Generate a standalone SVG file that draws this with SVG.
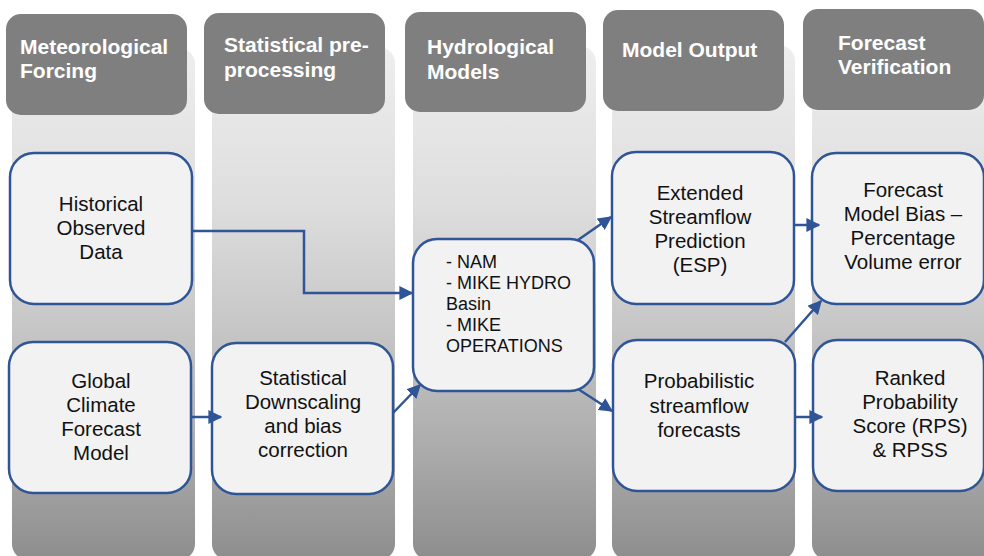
<svg xmlns="http://www.w3.org/2000/svg" width="984" height="556" viewBox="0 0 984 556">
<defs>
<linearGradient id="colg" x1="0" y1="48" x2="0" y2="560" gradientUnits="userSpaceOnUse">
<stop offset="0" stop-color="#eeeeee"/>
<stop offset="0.3" stop-color="#dedede"/>
<stop offset="0.55" stop-color="#c6c6c6"/>
<stop offset="0.78" stop-color="#acacac"/>
<stop offset="1" stop-color="#8d8d8d"/>
</linearGradient>
<marker id="ah" viewBox="0 0 10 10" refX="9" refY="5" markerWidth="5.6" markerHeight="5.6" orient="auto" markerUnits="strokeWidth">
<path d="M0,0 L10,5 L0,10 Z" fill="#2f5597"/>
</marker>
<style>
.col{fill:url(#colg);}
.hdr{fill:#7f7f7f;}
.ht{font-family:"Liberation Sans",Arial,sans-serif;font-weight:bold;font-size:21px;fill:#ffffff;}
.box{fill:#f2f2f2;stroke:#2f5597;stroke-width:2.5;}
.bt{font-family:"Liberation Sans",Arial,sans-serif;font-size:20.5px;fill:#111111;text-anchor:middle;}
.lt{font-family:"Liberation Sans",Arial,sans-serif;font-size:18px;fill:#111111;}
.con{fill:none;stroke:#2f5597;stroke-width:2.5;marker-end:url(#ah);}
</style>
</defs>
<rect width="984" height="556" fill="#ffffff"/>
<g id="columns">
<rect class="col" x="12" y="48" width="183" height="512" rx="16"/>
<rect class="col" x="212" y="47" width="183" height="513" rx="16"/>
<rect class="col" x="413" y="46" width="183" height="514" rx="16"/>
<rect class="col" x="612" y="45" width="183" height="515" rx="16"/>
<rect class="col" x="812" y="44" width="183" height="516" rx="16"/>
</g>
<g id="header-meteorological">
<rect class="hdr" x="6" y="14" width="181" height="101" rx="15"/>
<text class="ht" x="20" y="54">Meteorological</text>
<text class="ht" x="20" y="78">Forcing</text>
</g>
<g id="header-statistical">
<rect class="hdr" x="204" y="13" width="181" height="101" rx="15"/>
<text class="ht" x="224" y="52">Statistical pre-</text>
<text class="ht" x="224" y="77">processing</text>
</g>
<g id="header-hydrological">
<rect class="hdr" x="405" y="12" width="181" height="100" rx="15"/>
<text class="ht" x="427" y="54">Hydrological</text>
<text class="ht" x="427" y="79">Models</text>
</g>
<g id="header-output">
<rect class="hdr" x="603" y="10" width="181" height="101" rx="15"/>
<text class="ht" x="622" y="57">Model Output</text>
</g>
<g id="header-verification">
<rect class="hdr" x="803" y="9" width="181" height="101" rx="15"/>
<text class="ht" x="838" y="50">Forecast</text>
<text class="ht" x="838" y="74">Verification</text>
</g>
<g id="node-historical">
<rect class="box" x="10" y="153" width="182" height="151" rx="24"/>
<text class="bt" x="101" y="211">Historical</text>
<text class="bt" x="101" y="235">Observed</text>
<text class="bt" x="101" y="259">Data</text>
</g>
<g id="node-gcm">
<rect class="box" x="9" y="342" width="182" height="151" rx="24"/>
<text class="bt" x="101" y="388">Global</text>
<text class="bt" x="101" y="412">Climate</text>
<text class="bt" x="101" y="436">Forecast</text>
<text class="bt" x="101" y="460">Model</text>
</g>
<g id="node-downscaling">
<rect class="box" x="212" y="343" width="181" height="151" rx="24"/>
<text class="bt" x="303" y="385">Statistical</text>
<text class="bt" x="303" y="409">Downscaling</text>
<text class="bt" x="303" y="433">and bias</text>
<text class="bt" x="303" y="457">correction</text>
</g>
<g id="node-hydro">
<rect class="box" x="413" y="239" width="181" height="152" rx="24"/>
<text class="lt" x="446" y="268">- NAM</text>
<text class="lt" x="446" y="289">- MIKE HYDRO</text>
<text class="lt" x="446" y="310">Basin</text>
<text class="lt" x="446" y="331">- MIKE</text>
<text class="lt" x="446" y="352">OPERATIONS</text>
</g>
<g id="node-esp">
<rect class="box" x="612" y="152" width="182" height="152" rx="24"/>
<text class="bt" x="700" y="200">Extended</text>
<text class="bt" x="700" y="224">Streamflow</text>
<text class="bt" x="700" y="248">Prediction</text>
<text class="bt" x="700" y="272">(ESP)</text>
</g>
<g id="node-probabilistic">
<rect class="box" x="613" y="340" width="182" height="151" rx="24"/>
<text class="bt" x="699" y="388">Probabilistic</text>
<text class="bt" x="699" y="413">streamflow</text>
<text class="bt" x="699" y="437">forecasts</text>
</g>
<g id="node-bias">
<rect class="box" x="812" y="153" width="172" height="151" rx="24"/>
<text class="bt" x="903" y="197">Forecast</text>
<text class="bt" x="903" y="221">Model Bias –</text>
<text class="bt" x="903" y="245">Percentage</text>
<text class="bt" x="903" y="269">Volume error</text>
</g>
<g id="node-rps">
<rect class="box" x="813" y="340" width="171" height="151" rx="24"/>
<text class="bt" x="910" y="385">Ranked</text>
<text class="bt" x="910" y="409">Probability</text>
<text class="bt" x="910" y="433">Score (RPS)</text>
<text class="bt" x="910" y="457">&amp; RPSS</text>
</g>
<g id="connectors">
<polyline class="con" points="192,231 304,231 304,293 412,293"/>
<line class="con" x1="191" y1="417" x2="221" y2="417"/>
<line class="con" x1="393" y1="413" x2="420" y2="385"/>
<line class="con" x1="578" y1="240" x2="611" y2="217"/>
<line class="con" x1="578" y1="389" x2="612" y2="411"/>
<line class="con" x1="794" y1="225" x2="819" y2="225"/>
<line class="con" x1="785" y1="342" x2="821" y2="301"/>
<line class="con" x1="795" y1="417" x2="822" y2="417"/>
</g>
</svg>
